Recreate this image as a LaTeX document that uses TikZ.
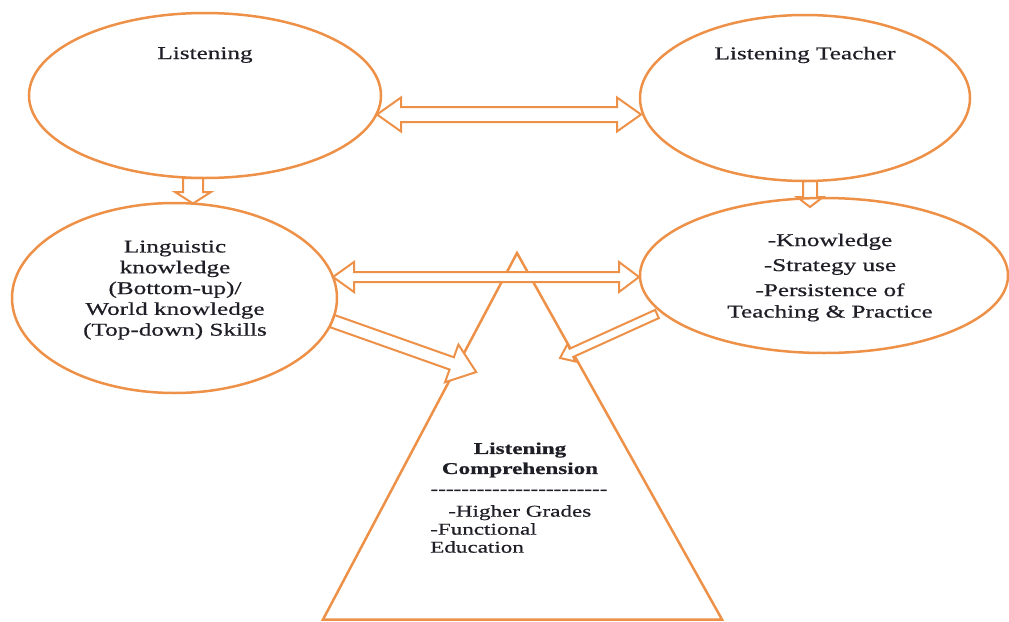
\documentclass[tikz,border=0pt]{standalone}
\usepackage{fontspec}
\setmainfont{Liberation Serif}
\newfontfamily\dfont[FakeStretch=1.4,FakeBold=0.6]{Liberation Serif}
\usetikzlibrary{shapes.geometric}
\definecolor{org}{RGB}{238,145,72}
\definecolor{ink}{RGB}{30,30,38}
\newcommand\mydashes{-{}-{}-{}-{}-{}-{}-{}-{}-{}-{}-{}-{}-{}-{}-{}-{}-{}-{}-{}-{}-{}-{}-}
\begin{document}
\begin{tikzpicture}[x=1pt,y=-1pt,
  ell/.style={ellipse, draw=org, line width=2.5pt, inner sep=0pt},
  blk/.style={draw=org, line width=2pt, fill=white, line join=miter},
  tri/.style={draw=org, line width=2.5pt, line join=miter},
  txt/.style={text=ink, font=\dfont\fontsize{18}{20.8}\selectfont, align=center, inner sep=0pt},
  ttl/.style={text=ink, font=\dfont\bfseries\fontsize{16.5}{20}\selectfont, align=center, inner sep=0pt},
  sml/.style={text=ink, font=\dfont\fontsize{16.5}{18}\selectfont, align=left, inner sep=0pt}]
\useasboundingbox (0,0) rectangle (1009,621);

% triangle
\coordinate (apex) at (517,253);
\coordinate (br) at (722,619.5);
\coordinate (bl) at (323,619.5);
\draw[tri] (apex) -- (br) -- (bl) -- cycle;

% top double arrow
\draw[blk] (377,114.5) -- (401,97.5) -- (401,107) -- (617,107) -- (617,97.5) -- (641,114.5)
  -- (617,131.5) -- (617,122) -- (401,122) -- (401,131.5) -- cycle;

% middle double arrow
\draw[blk] (333,277) -- (354,262) -- (354,272) -- (619,272) -- (619,262) -- (639,277)
  -- (619,292) -- (619,282) -- (354,282) -- (354,292) -- cycle;

% down arrows
\draw[blk] (183,178) -- (183,192) -- (175,192) -- (193,203.5) -- (211,192) -- (203,192) -- (203,178) -- cycle;
\draw[blk] (803,181) -- (803,197) -- (797,197) -- (810,207) -- (823,197) -- (817,197) -- (817,181) -- cycle;

% left diagonal arrow
\coordinate (ltail) at (332,321);
\begin{scope}[shift={(ltail)}, rotate=-19.5]
  \draw[blk] (0,-6.5) -- (127,-6.5) -- (127,-20) -- (153,0) -- (127,20) -- (127,6.5) -- (0,6.5) -- cycle;
\end{scope}

% right diagonal arrow
\coordinate (rtail) at (657,314);
\begin{scope}[shift={(rtail)}, rotate=204.4]
  \draw[blk] (0,-4.5) -- (94,-4.5) -- (94,-9.5) -- (106.5,0) -- (94,9.5) -- (94,4.5) -- (0,4.5) -- cycle;
\end{scope}

% ellipses
\node[ell, minimum width=352pt, minimum height=165pt] (lis) at (205,95.5) {};
\node[ell, minimum width=330pt, minimum height=166pt] (tea) at (805,98) {};
\node[ell, minimum width=325pt, minimum height=190pt] (lin) at (174.5,298) {};
\node[ell, minimum width=368pt, minimum height=155pt] (kno) at (824,275.5) {};

% texts
\node[txt] (t1) at (205,55) {Listening};
\node[txt] (t2) at (805,55) {Listening Teacher};
\node[txt] (t3) at (175,290) {Linguistic\\knowledge\\(Bottom-up)/\\World knowledge\\(Top-down) Skills};
\node[txt, font=\dfont\fontsize{18}{21.5}\selectfont] (t4) at (830,277.5) {-Knowledge\\[3.5pt]-Strategy use\\[3.5pt]-Persistence of\\Teaching \& Practice};
\node[ttl] (t5) at (520,460) {Listening\\Comprehension};
\node[sml] (t6) at (519,492) {\mydashes};
\node[sml, anchor=north west] (t7) at (430,505) {\hspace*{18pt}-Higher Grades\\-Functional\\Education};
\end{tikzpicture}
\end{document}
